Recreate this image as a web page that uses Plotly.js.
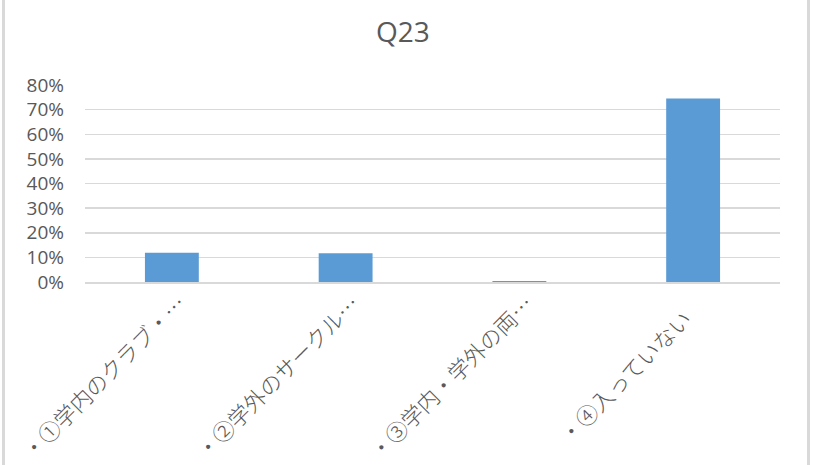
<!DOCTYPE html>
<html>
<head>
<meta charset="utf-8">
<script src="https://cdn.plot.ly/plotly-3.0.1.min.js"></script>
<style>html,body{margin:0;padding:0;background:#fff;}#chart{width:824px;height:465px;}</style>
</head>
<body>
<div id="chart"></div>
<script>
const categories = ["・①学内のクラブ・…", "・②学外のサークル…", "・③学内・学外の両…", "・④入っていない"];
const values = [0.119, 0.117, 0.004, 0.745];
const yTickVals = [0, 0.1, 0.2, 0.3, 0.4, 0.5, 0.6, 0.7, 0.8];
const chartTitle = "Q23";

const fontFam = "Open Sans, Noto Sans CJK JP, sans-serif";
const W = 824, H = 465, mL = 85, mR = 44, mT = 85, mB = 183;
const pw = W - mL - mR, ph = H - mT - mB;
const px2x = p => (p - mL) / pw;
const py2y = p => (H - mB - p) / ph;

const trace = {
  type: 'bar',
  x: categories,
  y: values,
  width: 0.31,
  marker: {color: '#5b9bd5', line: {width: 0}},
  hoverinfo: 'none'
};

// Excel-style rotated category labels, centred below each category
const labelAnnotations = categories.map(c => ({
  x: c, xref: 'x',
  y: py2y(376), yref: 'paper',
  xshift: -69,
  text: c,
  textangle: -45,
  showarrow: false,
  xanchor: 'center', yanchor: 'middle',
  font: {family: "Noto Sans CJK JP, sans-serif", size: 22, color: '#595959', weight: 300}
}));

const layout = {
  width: W, height: H,
  margin: {l: mL, r: mR, t: mT, b: mB},
  paper_bgcolor: '#ffffff',
  plot_bgcolor: '#ffffff',
  showlegend: false,
  title: {
    text: chartTitle,
    font: {family: fontFam, size: 28, color: '#595959'},
    xref: 'container', x: 0.489, xanchor: 'center',
    yref: 'container', y: 1 - 32 / H, yanchor: 'middle'
  },
  xaxis: {
    type: 'category',
    range: [-0.5, categories.length - 0.5],
    autorange: false,
    showticklabels: false,
    showgrid: false,
    showline: true, linecolor: '#d9d9d9', linewidth: 1.5,
    ticks: ''
  },
  yaxis: {
    range: [0, 0.8],
    tickvals: yTickVals,
    tickformat: '.0%',
    tickfont: {family: fontFam, size: 19, color: '#595959'},
    showgrid: true, gridcolor: '#d9d9d9', gridwidth: 1.5,
    zeroline: false,
    showline: false,
    ticks: '',
    ticklabelstandoff: 20
  },
  annotations: labelAnnotations,
  shapes: [
    {type: 'line', xref: 'paper', yref: 'paper', x0: px2x(3.5), x1: px2x(3.5), y0: py2y(0), y1: py2y(H), line: {color: '#d9d9d9', width: 3}},
    {type: 'line', xref: 'paper', yref: 'paper', x0: px2x(808.5), x1: px2x(808.5), y0: py2y(0), y1: py2y(H), line: {color: '#d9d9d9', width: 3}}
  ]
};

Plotly.newPlot('chart', [trace], layout, {staticPlot: true, displayModeBar: false});
</script>
</body>
</html>
